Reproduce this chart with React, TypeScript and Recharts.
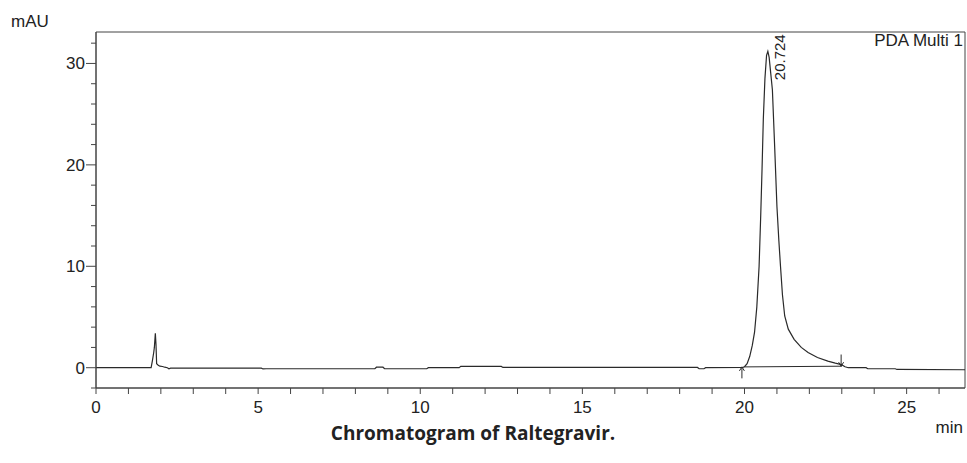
import React from "react";
import {
  LineChart,
  Line,
  XAxis,
  YAxis,
  ReferenceLine,
  ReferenceArea,
  ReferenceDot,
} from "recharts";

// ---- data (time in min, absorbance in mAU) ----
const times: number[] = [
  0, 1.7, 1.74, 1.78, 1.8, 1.83, 1.85, 1.87, 1.92, 1.97, 2.05, 2.12, 2.2, 2.25, 2.3,
  5.1, 5.15, 5.25, 8.6, 8.65, 8.85, 8.9, 10.2, 10.25, 11.2, 11.25, 12.5, 12.55,
  18.55, 18.6, 18.75, 18.8, 19.95, 20.0, 20.08, 20.16, 20.24, 20.31, 20.38, 20.45,
  20.5, 20.54, 20.58, 20.63, 20.68, 20.72, 20.76, 20.81, 20.86, 20.93, 21.0, 21.06,
  21.11, 21.17, 21.24, 21.35, 21.53, 21.75, 21.96, 22.25, 22.57, 22.8, 22.99, 23.1,
  23.2, 23.75, 23.8, 24.65, 24.7, 26.8,
];
const signal: number[] = [
  0, 0, 0.7, 1.5, 2.0, 3.4, 2.3, 0.4, 0.25, 0.15, 0.12, 0.05, 0, -0.1, -0.05,
  -0.05, -0.12, -0.1, -0.1, 0.05, 0.05, -0.1, -0.1, 0, 0, 0.13, 0.13, 0.03,
  0.03, -0.1, -0.1, 0, 0.03, 0.1, 0.4, 1.1, 2.2, 3.5, 6.0, 10.0,
  15.0, 19.5, 24.5, 28.5, 30.8, 31.2, 30.6, 29.0, 27.4, 21.8, 15.9, 12.5,
  10.0, 7.2, 5.1, 3.8, 2.8, 2.0, 1.5, 1.0, 0.65, 0.45, 0.3, 0.1,
  0.0, 0.0, -0.1, -0.1, -0.17, -0.2,
];

const xDomain: [number, number] = [0, 26.8];
const yDomain: [number, number] = [-2, 33.1];
const xMinorTicks: number[] = Array.from({ length: 27 }, (_, i) => i);
const xMajorTicks: number[] = [0, 5, 10, 15, 20, 25];
const yMinorTicks: number[] = Array.from({ length: 18 }, (_, i) => -2 + i * 2);
const yMajorTicks: number[] = [0, 10, 20, 30];

const peakTime = 20.724;
const peakHeight = 31.2;
const peakLabel = "20.724";
const integStart: [number, number] = [20.0, 0.08];
const integEnd: [number, number] = [23.0, 0.15];
const markerUp = { t: 19.92, from: -1.05, to: 0.08 };
const markerDown = { t: 22.98, from: 1.3, to: 0.15 };

const data = times.map((t, i) => ({ t, v: signal[i] }));

const INK = "#2a2a2a";
const AXIS = "#444";
const FONT = "'Liberation Sans', Arial, sans-serif";

const XTick = (props: any) => {
  const { x, y, payload } = props;
  const major = xMajorTicks.includes(payload.value);
  return (
    <g>
      <line x1={x} x2={x} y1={y} y2={y + 6} stroke={AXIS} strokeWidth={1} />
      {major && (
        <text x={x} y={y + 25} textAnchor="middle" fontSize={17} fontFamily={FONT} fill="#222">
          {payload.value}
        </text>
      )}
    </g>
  );
};

const YTick = (props: any) => {
  const { x, y, payload } = props;
  const major = yMajorTicks.includes(payload.value);
  return (
    <g>
      <line x1={x - (major ? 10 : 5)} x2={x} y1={y} y2={y} stroke={AXIS} strokeWidth={1} />
      {major && (
        <text x={x - 11} y={y + 6} textAnchor="end" fontSize={17} fontFamily={FONT} fill="#222">
          {payload.value}
        </text>
      )}
    </g>
  );
};

const arrowShape = (dir: "up" | "down") => (props: any) => {
  const { x1, y1, x2, y2 } = props;
  const tipY = y2;
  const s = dir === "up" ? 1 : -1;
  return (
    <g>
      <line x1={x1} y1={y1} x2={x2} y2={y2} stroke={INK} strokeWidth={1} />
      <path
        d={`M${x2 - 2.5},${tipY + s * 4} L${x2},${tipY} L${x2 + 2.5},${tipY + s * 4}`}
        fill="none"
        stroke={INK}
        strokeWidth={1}
      />
    </g>
  );
};

const PeakLabel = (props: any) => {
  const { viewBox } = props;
  const cx = viewBox.x + viewBox.width / 2;
  const cy = viewBox.y + viewBox.height / 2;
  const ax = cx + 12;
  const ay = cy - 17;
  return (
    <text
      x={ax}
      y={ay}
      transform={`rotate(-90 ${ax} ${ay})`}
      textAnchor="end"
      dominantBaseline="central"
      fontSize={15}
      fontFamily={FONT}
      fill="#222"
    >
      {peakLabel}
    </text>
  );
};

export default function App() {
  return (
    <div style={{ position: "fixed", left: 0, top: 0, width: 967, height: 463, background: "#fff" }}>
      <LineChart
        width={967}
        height={463}
        data={data}
        margin={{ top: 32, right: 2, left: 0, bottom: 45 }}
      >
        <XAxis
          type="number"
          dataKey="t"
          domain={xDomain}
          allowDataOverflow
          ticks={xMinorTicks}
          interval={0}
          tick={<XTick />}
          tickLine={false}
          tickSize={0}
          tickMargin={0}
          axisLine={{ stroke: AXIS }}
          height={30}
        />
        <YAxis
          type="number"
          dataKey="v"
          domain={yDomain}
          allowDataOverflow
          ticks={yMinorTicks}
          interval={0}
          tick={<YTick />}
          tickLine={false}
          tickSize={0}
          tickMargin={0}
          axisLine={{ stroke: AXIS }}
          width={96}
        />
        <ReferenceArea
          x1={xDomain[0]}
          x2={xDomain[1]}
          y1={yDomain[0]}
          y2={yDomain[1]}
          fill="none"
          fillOpacity={0}
          stroke={AXIS}
          strokeWidth={1}
          ifOverflow="visible"
        />
        <ReferenceLine
          segment={[
            { x: integStart[0], y: integStart[1] },
            { x: integEnd[0], y: integEnd[1] },
          ]}
          stroke={INK}
          strokeWidth={1}
        />
        <ReferenceLine
          segment={[
            { x: markerUp.t, y: markerUp.from },
            { x: markerUp.t, y: markerUp.to },
          ]}
          shape={arrowShape("up")}
        />
        <ReferenceLine
          segment={[
            { x: markerDown.t, y: markerDown.from },
            { x: markerDown.t, y: markerDown.to },
          ]}
          shape={arrowShape("down")}
        />
        <Line
          type="linear"
          dataKey="v"
          stroke={INK}
          strokeWidth={1.2}
          dot={false}
          isAnimationActive={false}
        />
        <ReferenceDot
          x={peakTime}
          y={peakHeight}
          r={1}
          fill="none"
          stroke="none"
          label={<PeakLabel />}
        />
      </LineChart>
      <svg
        width={967}
        height={463}
        style={{ position: "absolute", left: 0, top: 0, pointerEvents: "none" }}
      >
        <text x={11} y={27} fontSize={17} fontFamily={FONT} fill="#222">mAU</text>
        <text x={963} y={46} fontSize={17} fontFamily={FONT} fill="#222" textAnchor="end">PDA Multi 1</text>
        <text x={963} y={433} fontSize={17} fontFamily={FONT} fill="#222" textAnchor="end">min</text>
        <text
          x={473}
          y={440}
          fontSize={19}
          fontWeight={700}
          fontFamily="'Open Sans', Lato, sans-serif"
          fill="#222"
          textAnchor="middle"
        >
          Chromatogram of Raltegravir.
        </text>
      </svg>
    </div>
  );
}
